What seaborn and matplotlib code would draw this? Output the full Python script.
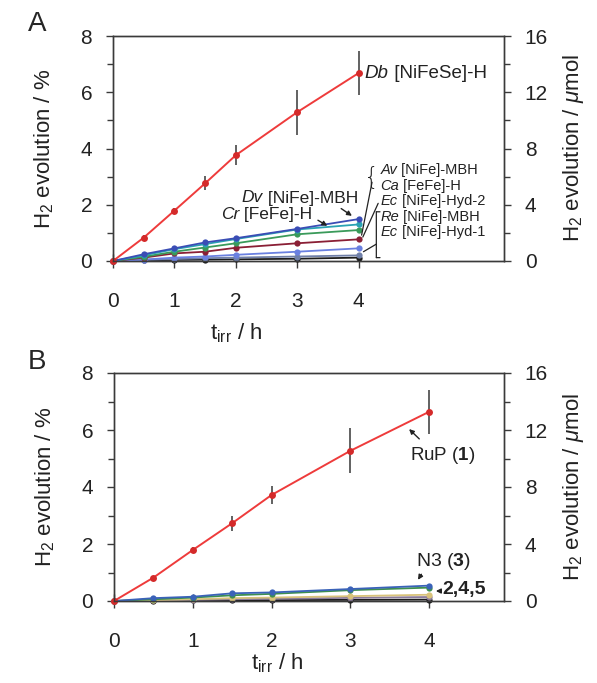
import numpy as np
import pandas as pd
import matplotlib
matplotlib.use("Agg")
import matplotlib.pyplot as plt
import seaborn as sns
from matplotlib.ticker import MultipleLocator

sns.set_style("ticks")
plt.rcParams['font.family'] = ['Liberation Sans', 'DejaVu Sans']
plt.rcParams['mathtext.fontset'] = 'custom'
plt.rcParams['mathtext.rm'] = 'Liberation Sans'
plt.rcParams['mathtext.it'] = 'Liberation Sans:italic'
plt.rcParams['mathtext.bf'] = 'Liberation Sans:bold'

# ---------------- data ----------------
t_h = [0, 0.5, 1, 1.5, 2, 3, 4]

# Panel A (hydrogenases)
db_nifese = [0, 0.83, 1.79, 2.76, 3.76, 5.29, 6.68]
db_err = [0, 0.08, 0.10, 0.25, 0.36, 0.80, 0.77]
dv_nife_mbh = [0, 0.24, 0.45, 0.66, 0.81, 1.14, 1.49]
cr_fefe = [0, 0.20, 0.42, 0.60, 0.78, 1.12, 1.30]
ec_hyd2 = [0, 0.15, 0.33, 0.48, 0.63, 0.95, 1.10]
re_nife_mbh = [0, 0.12, 0.27, 0.33, 0.47, 0.63, 0.77]
ec_hyd1 = [0, 0.05, 0.12, 0.16, 0.22, 0.33, 0.45]
av_nife_mbh = [0, 0.04, 0.07, 0.10, 0.12, 0.16, 0.20]
ca_fefe = [0, 0.02, 0.04, 0.05, 0.06, 0.08, 0.12]

# Panel B (photosensitisers)
rup_1 = [0, 0.82, 1.79, 2.73, 3.72, 5.27, 6.64]
rup_err = [0, 0.06, 0.10, 0.26, 0.32, 0.79, 0.77]
n3_3 = [0, 0.10, 0.15, 0.27, 0.30, 0.42, 0.54]
dye_2 = [0, 0.06, 0.12, 0.20, 0.25, 0.38, 0.47]
dye_4 = [0, 0.03, 0.06, 0.10, 0.12, 0.17, 0.22]
dye_5 = [0, 0.02, 0.04, 0.06, 0.08, 0.11, 0.14]
blank = [0, 0.01, 0.02, 0.03, 0.03, 0.04, 0.05]

x_ticks = [0, 1, 2, 3, 4]
y_ticks_pct = [0, 2, 4, 6, 8]
y_ticks_umol = [0, 4, 8, 12, 16]

series_a = [
    ("Ca", ca_fefe, "#1c1c1c"),
    ("Av", av_nife_mbh, "#6f7fa8"),
    ("Ec1", ec_hyd1, "#6a80e0"),
    ("Re", re_nife_mbh, "#8a1f35"),
    ("Ec2", ec_hyd2, "#3a9a5a"),
    ("Cr", cr_fefe, "#2aa3b3"),
    ("Dv", dv_nife_mbh, "#3a4db5"),
]
series_b = [
    ("blank", blank, "#1c1c1c"),
    ("5", dye_5, "#8a7a9a"),
    ("4", dye_4, "#d8c27a"),
    ("2", dye_2, "#3d8f4f"),
    ("3", n3_3, "#3a62b8"),
]

W, H = 597, 683
fig = plt.figure(figsize=(W / 100, H / 100), dpi=100)

def px_axes(left, right, top, bottom):
    return fig.add_axes([left / W, (H - bottom) / H, (right - left) / W, (bottom - top) / H])

axA = px_axes(113, 504, 36, 261)
axB = px_axes(114, 504, 373, 601)

spine_col = "#3a3a3a"
tick_fs = 15
lab_fs = 16

def style(ax, xmax):
    ax.set_xlim(0, xmax)
    ax.set_ylim(0, 8)
    ax.set_xticks(x_ticks)
    ax.set_yticks(y_ticks_pct)
    ax.yaxis.set_minor_locator(MultipleLocator(1))
    for s in ax.spines.values():
        s.set_color(spine_col)
        s.set_linewidth(1.0)
    ax.tick_params(axis='x', direction='inout', length=10, width=1, pad=17,
                   labelsize=tick_fs, colors=spine_col, labelcolor='#222222')
    ax.tick_params(axis='y', which='major', direction='out', length=5, width=1,
                   pad=10, labelsize=tick_fs, colors=spine_col, labelcolor='#222222')
    ax.tick_params(axis='y', which='minor', direction='out', length=4, width=1,
                   colors=spine_col)
    ax.set_ylabel("H$_2$ evolution / %", fontsize=lab_fs, color='#222222')
    ax.yaxis.set_label_coords(-0.145, 0.5)
    ax.set_xlabel("t$_{\\rm irr}$ / h", fontsize=lab_fs, color='#222222')
    ax2 = ax.twinx()
    ax2.set_ylim(0, 16)
    ax2.set_yticks(y_ticks_umol)
    ax2.yaxis.set_minor_locator(MultipleLocator(2))
    for s in ax2.spines.values():
        s.set_color(spine_col)
        s.set_linewidth(1.0)
    ax2.tick_params(axis='y', which='major', direction='out', length=5, width=1,
                    pad=10, labelsize=tick_fs, colors=spine_col, labelcolor='#222222')
    ax2.tick_params(axis='y', which='minor', direction='out', length=4, width=1,
                    colors=spine_col)
    ax2.set_ylabel("H$_2$ evolution / $\\mu$mol", fontsize=lab_fs, color='#222222')
    ax2.yaxis.set_label_coords(1.145, 0.5)
    return ax2

def draw(ax, series, red, red_err):
    for name, vals, col in series:
        sns.lineplot(x=t_h, y=vals, ax=ax, color=col, marker='o', markersize=4.5,
                     markeredgewidth=0, linewidth=1.3, clip_on=False, zorder=3)
    ax.errorbar(t_h, red, yerr=red_err, fmt='none', ecolor='#555555',
                elinewidth=1.3, capsize=0, zorder=4)
    sns.lineplot(x=t_h, y=red, ax=ax, color='#ee3b3b', marker='o', markersize=5,
                 markerfacecolor='#d42a2a', markeredgewidth=0, linewidth=1.4,
                 clip_on=False, zorder=5)

draw(axA, series_a, db_nifese, db_err)
draw(axB, series_b, rup_1, rup_err)

axA2 = style(axA, 6.37)
axB2 = style(axB, 4.95)
axA.xaxis.set_label_coords(0.314, -0.27)
axB.xaxis.set_label_coords(0.417, -0.22)

fig.text(37 / W, 1 - 24 / H, "A", fontsize=20, ha='center', va='center')
fig.text(37 / W, 1 - 362 / H, "B", fontsize=20, ha='center', va='center')

tc = '#222222'

def label(ax, x, y, ital, rest, fs, ha='left'):
    """Organism abbreviation in italics followed by upright enzyme name."""
    if ha == 'left':
        t1 = ax.text(x, y, ital, fontsize=fs, style='italic', va='center', ha='left', color=tc)
        ax.annotate(" " + rest, xy=(1, 0), xycoords=t1, fontsize=fs, va='bottom',
                    ha='left', color=tc)
    else:
        t2 = ax.text(x, y, " " + rest, fontsize=fs, va='center', ha='right', color=tc)
        ax.annotate(ital, xy=(0, 0), xycoords=t2, fontsize=fs, style='italic',
                    va='bottom', ha='right', color=tc)

# ---------------- annotations panel A ----------------
label(axA, 4.1, 6.65, "Db", "[NiFeSe]-H", 13.5)
label(axA, 3.99, 2.24, "Dv", "[NiFe]-MBH", 12.5, ha='right')
axA.annotate("", xy=(3.93, 1.55), xytext=(3.68, 1.92),
             arrowprops=dict(arrowstyle='-|>', color=tc, lw=1, mutation_scale=7))
label(axA, 3.25, 1.67, "Cr", "[FeFe]-H", 12.5, ha='right')
axA.annotate("", xy=(3.53, 1.2), xytext=(3.3, 1.5),
             arrowprops=dict(arrowstyle='-|>', color=tc, lw=1, mutation_scale=7))

lab_x = 4.36
right_fs = 10.5
label(axA, lab_x, 3.22, "Av", "[NiFe]-MBH", right_fs)
label(axA, lab_x, 2.67, "Ca", "[FeFe]-H", right_fs)
label(axA, lab_x, 2.12, "Ec", "[NiFe]-Hyd-2", right_fs)
label(axA, lab_x, 1.57, "Re", "[NiFe]-MBH", right_fs)
label(axA, lab_x, 1.02, "Ec", "[NiFe]-Hyd-1", right_fs)

line_kw = dict(arrowstyle='-', color=tc, lw=0.9, shrinkA=0, shrinkB=0)
# brace for Av / Ca
axA.text(4.34, 2.95, "{", fontsize=17, va='center', ha='right', color=tc,
         family=['DejaVu Sans'], fontweight='light')
axA.annotate("", xy=(4.05, 0.92), xytext=(4.22, 2.8), arrowprops=line_kw)
axA.annotate("", xy=(4.07, 0.85), xytext=(4.32, 2.05), arrowprops=line_kw)
# bracket for Re / Ec-1
axA.annotate("", xy=(4.29, 1.75), xytext=(4.29, 0.12), arrowprops=line_kw)
axA.annotate("", xy=(4.35, 1.75), xytext=(4.29, 1.75), arrowprops=line_kw)
axA.annotate("", xy=(4.35, 0.12), xytext=(4.29, 0.12), arrowprops=line_kw)
axA.annotate("", xy=(4.08, 0.33), xytext=(4.29, 0.6), arrowprops=line_kw)

# ---------------- annotations panel B ----------------
axB.text(4.17, 5.12, "RuP ($\\mathbf{1}$)", fontsize=13.5, va='center', ha='center', color=tc)
axB.annotate("", xy=(3.72, 6.1), xytext=(3.9, 5.62),
             arrowprops=dict(arrowstyle='-|>', color=tc, lw=1, mutation_scale=7))
axB.text(4.18, 1.38, "N3 ($\\mathbf{3}$)", fontsize=14, va='center', ha='center', color=tc)
axB.annotate("", xy=(3.84, 0.66), xytext=(3.92, 1.02),
             arrowprops=dict(arrowstyle='-|>', color=tc, lw=1, mutation_scale=7))
axB.text(4.17, 0.4, "2,4,5", fontsize=14, va='center', ha='left', color=tc, fontweight='bold')
axB.annotate("", xy=(4.05, 0.35), xytext=(4.17, 0.35),
             arrowprops=dict(arrowstyle='-|>', color=tc, lw=1, mutation_scale=7))

fig.savefig("out.png", dpi=100)
